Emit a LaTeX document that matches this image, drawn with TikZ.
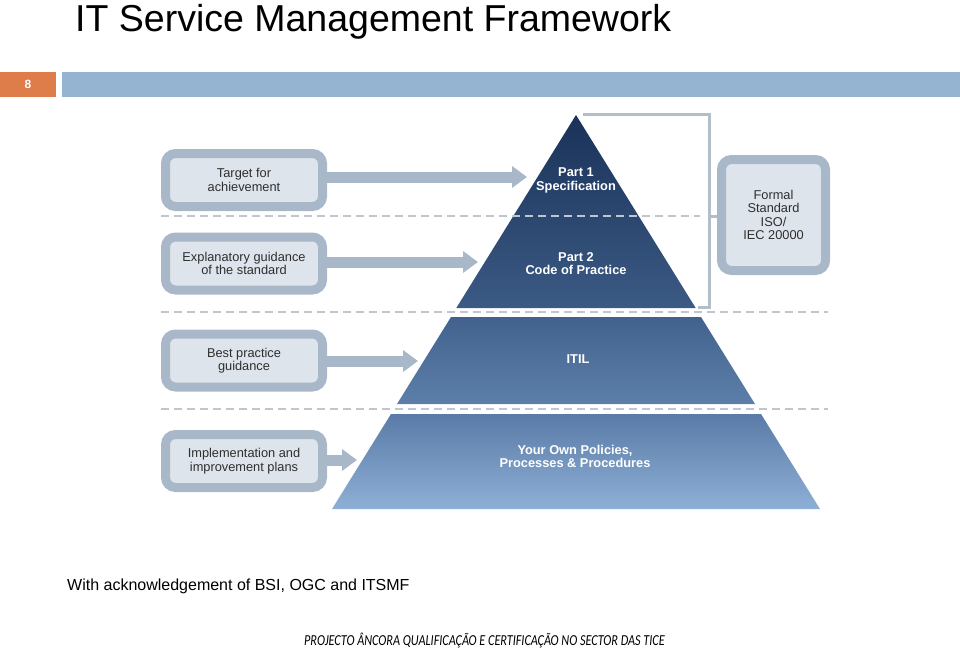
\documentclass[tikz,border=0pt]{standalone}
\usepackage{fontspec}
\setmainfont{Liberation Sans}
\newfontfamily\calfont{Carlito}
\usetikzlibrary{arrows.meta}
\definecolor{orangec}{HTML}{DE7D4A}
\definecolor{barblue}{HTML}{95B4D2}
\definecolor{boxborder}{HTML}{A8B8C9}
\definecolor{boxfill}{HTML}{DEE4EB}
\definecolor{boxtext}{HTML}{2E2E2E}
\definecolor{dashc}{HTML}{BFC6CE}
\definecolor{bracketc}{HTML}{B3BECB}
\definecolor{pyrA}{HTML}{1A3259}
\definecolor{pyrB}{HTML}{3B5A84}
\definecolor{pyrC}{HTML}{42628D}
\definecolor{pyrD}{HTML}{5C7FAA}
\definecolor{pyrE}{HTML}{5A7BA7}
\definecolor{pyrF}{HTML}{8EAFD5}
\begin{document}
\begin{tikzpicture}[x=1pt,y=-1pt,
  guide/.style={draw=boxborder, line width=9pt, fill=boxfill, rounded corners=10pt,
    minimum width=157pt, minimum height=53pt, inner sep=0pt, align=center,
    font=\fontsize{12.8}{13.5}\selectfont, text=boxtext},
  blockarrow/.style={draw=boxborder, line width=11pt, -{Triangle[length=15pt,width=21pt]}},
  pyrtext/.style={text=white, font=\bfseries\fontsize{12.8}{13.5}\selectfont, align=center, inner sep=0pt},
  sep/.style={draw=dashc, line width=2pt, dash pattern=on 8pt off 5pt},
  brk/.style={draw=bracketc, line width=3pt}
]
\useasboundingbox (0,0) rectangle (960,648);
% title and header bar
\node[anchor=base west, font=\fontsize{37.5}{40}\selectfont, inner sep=0pt, text=black] (title) at (75,31) {IT Service Management Framework};
\node[fill=orangec, minimum width=56pt, minimum height=25pt, inner sep=0pt, text=white, font=\bfseries\fontsize{12}{13}\selectfont] (num) at (28,84.5) {8};
\fill[barblue] (62,72) rectangle (960,97);

% pyramid
\shade[top color=pyrA, bottom color=pyrB] (576,115) -- (695.7,308) -- (456.3,308) -- cycle;
\shade[top color=pyrC, bottom color=pyrD] (451,317) -- (701,317) -- (755,404) -- (397,404) -- cycle;
\shade[top color=pyrE, bottom color=pyrF] (391,414) -- (761,414) -- (820,509) -- (332,509) -- cycle;

% dashed separators
\coordinate (d1l) at (161,216); \coordinate (d1r) at (700,216);
\coordinate (d2l) at (161,312); \coordinate (d2r) at (828,312);
\coordinate (d3l) at (161,408.5); \coordinate (d3r) at (828,408.5);
\draw[sep] (d1l) -- (d1r);
\draw[sep] (d2l) -- (d2r);
\draw[sep] (d3l) -- (d3r);

% pyramid labels
\node[pyrtext] (p1) at (576,180.5) {Part 1\\Specification};
\node[pyrtext] (p2) at (576,263.5) {Part 2\\Code of Practice};
\node[pyrtext] (itil) at (578,359.5) {ITIL};
\node[pyrtext] (own) at (575,456.5) {Your Own Policies,\\Processes \& Procedures};

% guidance boxes
\node[guide] (b1) at (244,180) {Target for\\achievement};
\node[guide] (b2) at (244,263.5) {Explanatory guidance\\of the standard};
\node[guide] (b3) at (244,360.5) {Best practice\\guidance};
\node[guide] (b4) at (244,461) {Implementation and\\improvement plans};

% formal standard box
\node[guide, minimum width=104pt, minimum height=111pt] (fs) at (773.5,215) {Formal\\Standard\\ISO/\\IEC 20000};

% arrows
\coordinate (t1) at (527,177);
\coordinate (t2) at (478,262);
\coordinate (t3) at (418,361);
\coordinate (t4) at (357,460);
\draw[blockarrow] (b1.east |- t1) -- (t1);
\draw[blockarrow] (b2.east |- t2) -- (t2);
\draw[blockarrow] (b3.east |- t3) -- (t3);
\draw[blockarrow] (b4.east |- t4) -- (t4);

% bracket
\coordinate (k1) at (583,114);
\coordinate (k2) at (709,114);
\coordinate (k3) at (709,307);
\coordinate (k4) at (698,307);
\coordinate (km) at (709,216);
\draw[brk] (k1) -- (k2) -- (k3) -- (k4);
\draw[brk] (km) -- (fs.west |- km);

% footer texts
\node[anchor=base west, inner sep=0pt, font=\fontsize{16}{18}\selectfont, text=black] (ack) at (67,590) {With acknowledgement of BSI, OGC and ITSMF};
\node[anchor=base, inner sep=0pt, text=black] (proj) at (484.5,645) {\scalebox{1}[1.25]{\calfont\itshape\fontsize{12.2}{14}\selectfont PROJECTO ÂNCORA QUALIFICAÇÃO E CERTIFICAÇÃO NO SECTOR DAS TICE}};
\end{tikzpicture}
\end{document}
